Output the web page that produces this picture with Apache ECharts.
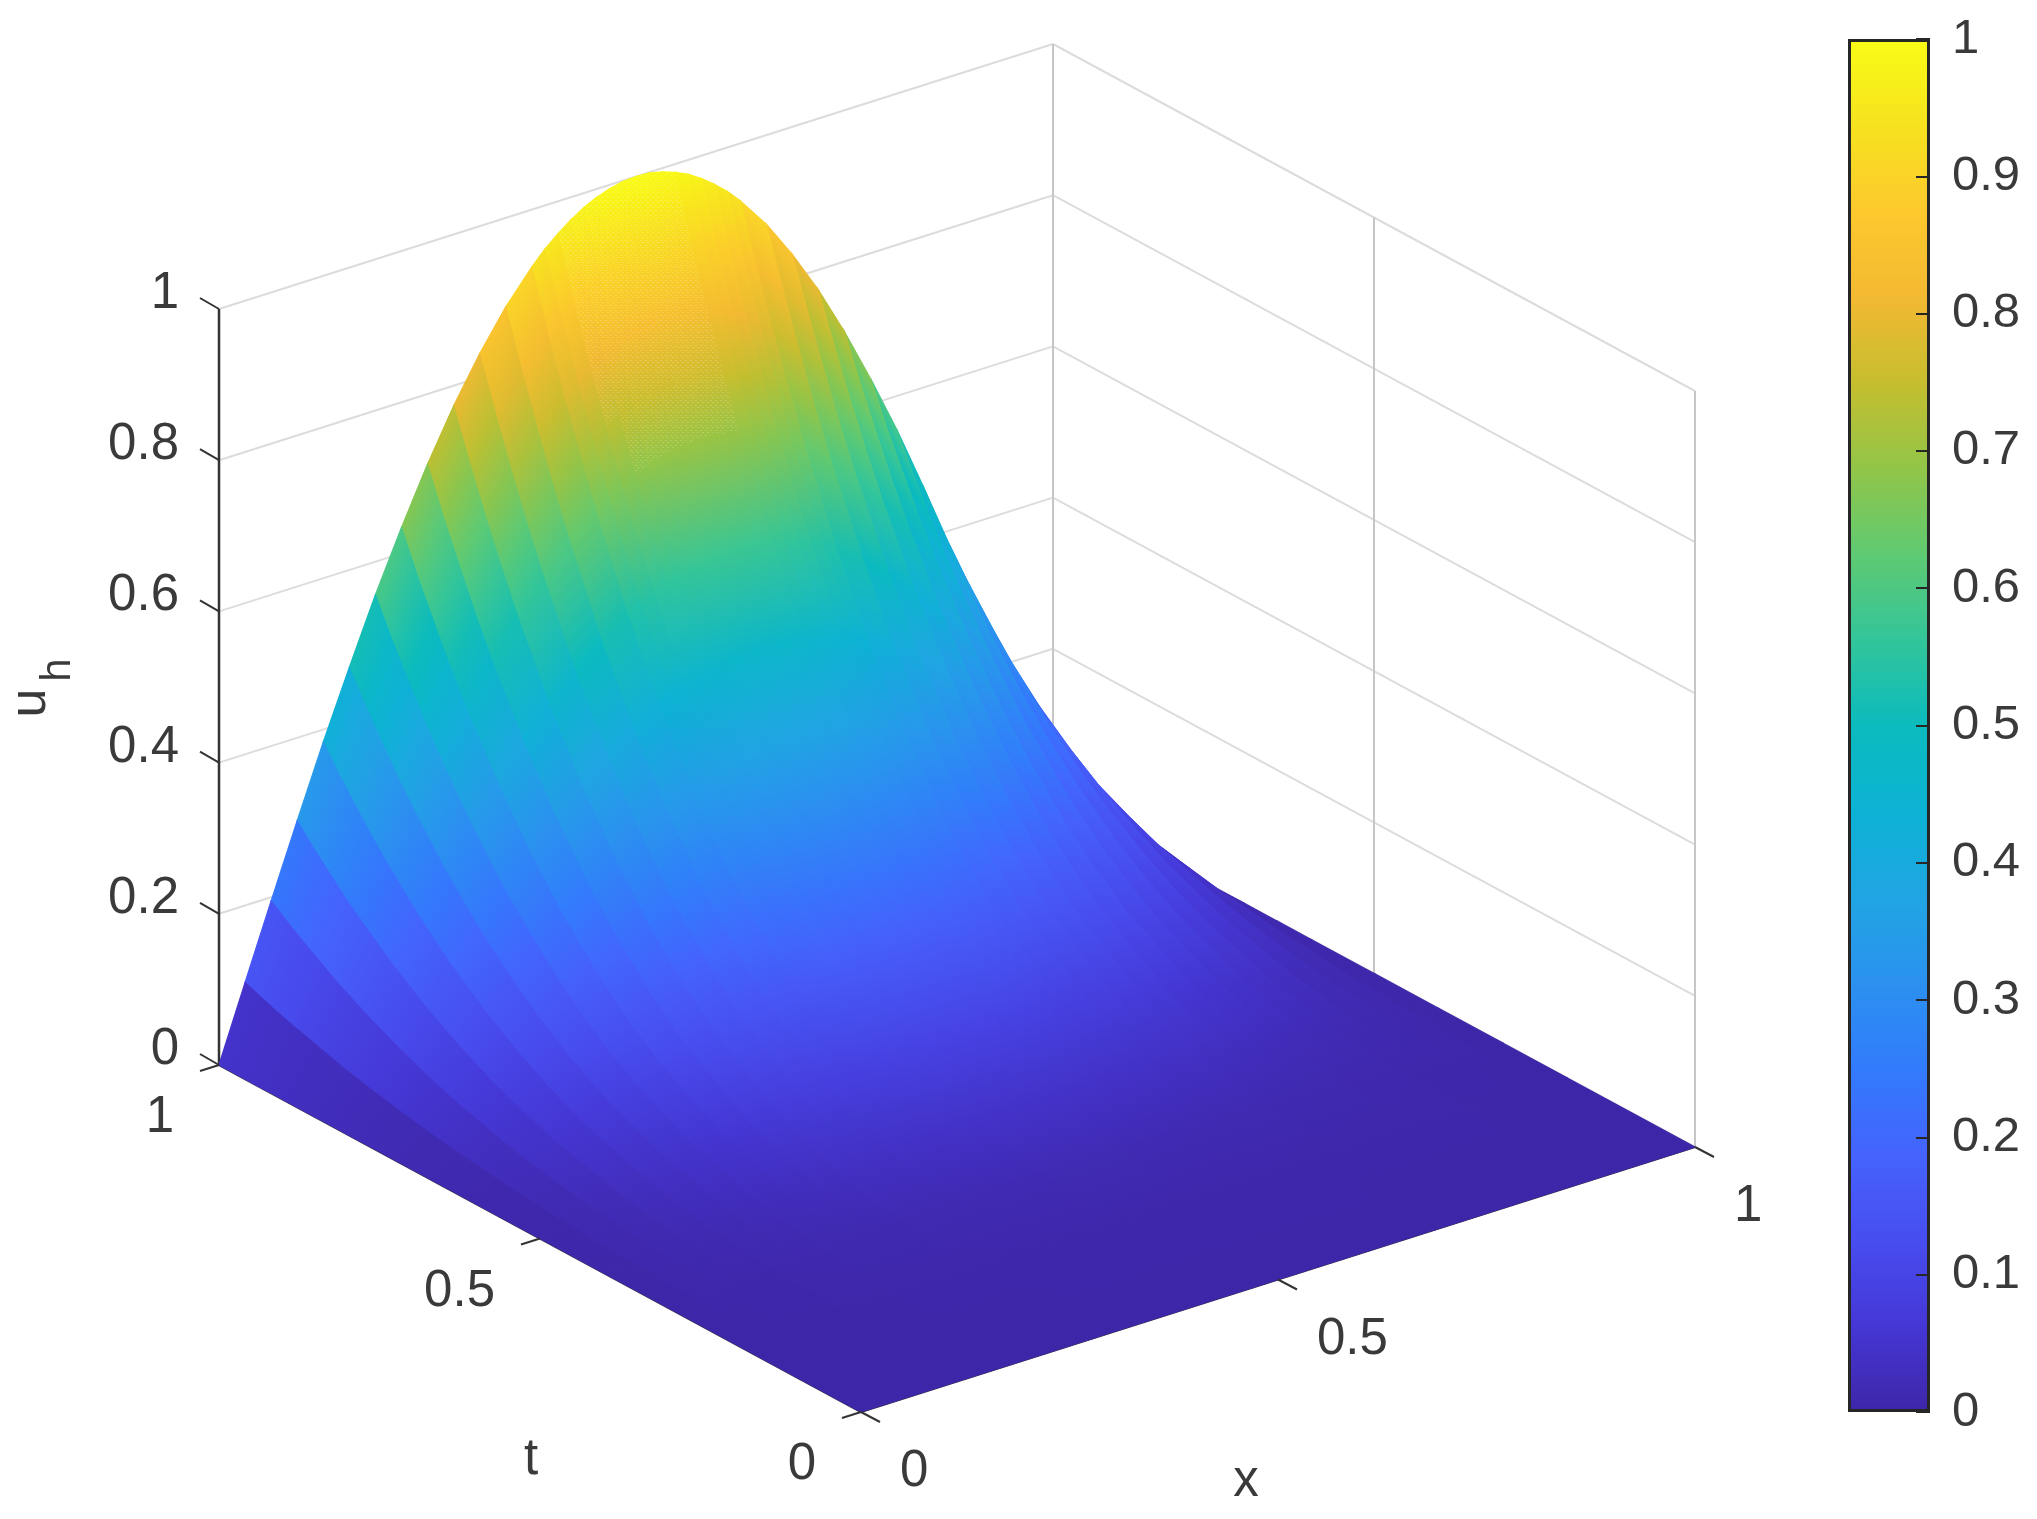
<!DOCTYPE html>
<html><head><meta charset="utf-8">
<style>html,body{margin:0;padding:0;background:#fff}#chart{width:2037px;height:1519px}</style>
<script src="https://cdn.jsdelivr.net/npm/echarts@6/dist/echarts.min.js"></script>
</head><body><div id="chart"></div>
<script>
// surface samples: one row of u per t, one column per x
const xValues = [0,.03125,.0625,.09375,.125,.15625,.1875,.21875,.25,.28125,.3125,.34375,.375,.390625,.40625,.421875,.4375,.453125,.46875,.484375,.5,.515625,.53125,.546875,.5625,.578125,.59375,.609375,.625,.65625,.6875,.71875,.75,.78125,.8125,.84375,.875,.90625,.9375,.96875,1];
const tValues = [0,.2,.3,.4,.5,.6,.65,.7,.75,.8,.85,.9,.925,.95,.975,1];
const uT000 = [0,0,0,0,0,0,0,0,0,0,0,0,0,0,0,0,0,0,0,0,0,0,0,0,0,0,0,0,0,0,0,0,0,0,0,0,0,0,0,0,0];
const uT200 = [0,0,.001,.001,.002,.002,.002,.003,.003,.003,.003,.004,.004,.004,.004,.004,.004,.004,.004,.004,.004,.004,.004,.004,.004,.004,.004,.004,.004,.004,.003,.003,.003,.003,.003,.003,.002,.002,.001,0,0];
const uT300 = [0,.002,.003,.005,.006,.008,.009,.011,.012,.013,.014,.015,.015,.016,.016,.016,.016,.017,.017,.017,.017,.017,.017,.017,.016,.016,.016,.016,.015,.015,.014,.013,.012,.011,.009,.008,.006,.005,.003,.002,0];
const uT400 = [0,.004,.009,.013,.017,.021,.025,.028,.031,.034,.037,.039,.041,.042,.042,.043,.044,.044,.044,.044,.044,.044,.044,.044,.044,.043,.042,.042,.041,.039,.037,.034,.031,.028,.025,.021,.017,.013,.009,.004,0];
const uT500 = [0,.009,.018,.027,.036,.045,.053,.060,.067,.073,.079,.084,.088,.089,.091,.092,.093,.094,.094,.095,.095,.095,.094,.094,.093,.092,.091,.089,.088,.084,.079,.073,.067,.060,.053,.045,.036,.027,.018,.009,0];
const uT600 = [0,.017,.034,.051,.067,.083,.098,.112,.124,.136,.146,.155,.163,.166,.168,.171,.173,.174,.175,.176,.176,.176,.175,.174,.173,.171,.168,.166,.163,.155,.146,.136,.124,.112,.098,.083,.067,.051,.034,.017,0];
const uT650 = [0,.023,.045,.067,.088,.109,.128,.146,.163,.179,.192,.204,.213,.218,.221,.224,.227,.228,.230,.231,.231,.231,.230,.228,.227,.224,.221,.218,.213,.204,.192,.179,.163,.146,.128,.109,.088,.067,.045,.023,0];
const uT700 = [0,.029,.058,.086,.114,.140,.165,.188,.210,.230,.247,.262,.274,.280,.284,.288,.291,.294,.296,.297,.297,.297,.296,.294,.291,.288,.284,.280,.274,.262,.247,.230,.210,.188,.165,.140,.114,.086,.058,.029,0];
const uT750 = [0,.037,.073,.109,.144,.177,.209,.238,.266,.291,.312,.332,.347,.354,.360,.365,.369,.372,.374,.376,.376,.376,.374,.372,.369,.365,.360,.354,.347,.332,.312,.291,.266,.238,.209,.177,.144,.109,.073,.037,0];
const uT800 = [0,.046,.091,.136,.179,.220,.260,.297,.331,.362,.389,.413,.432,.441,.448,.454,.459,.463,.466,.468,.468,.468,.466,.463,.459,.454,.448,.441,.432,.413,.389,.362,.331,.297,.260,.220,.179,.136,.091,.046,0];
const uT850 = [0,.056,.112,.167,.220,.271,.320,.365,.407,.444,.478,.507,.531,.542,.550,.558,.564,.569,.572,.574,.575,.574,.572,.569,.564,.558,.550,.542,.531,.507,.478,.444,.407,.365,.320,.271,.220,.167,.112,.056,0];
const uT900 = [0,.069,.136,.203,.268,.329,.389,.443,.494,.540,.581,.617,.646,.658,.669,.678,.686,.691,.696,.698,.699,.698,.696,.691,.686,.678,.669,.658,.646,.617,.581,.540,.494,.443,.389,.329,.268,.203,.136,.069,0];
const uT925 = [0,.075,.150,.222,.294,.361,.426,.486,.542,.593,.637,.676,.709,.723,.734,.744,.752,.759,.763,.766,.767,.766,.763,.759,.752,.744,.734,.723,.709,.676,.637,.593,.542,.486,.426,.361,.294,.222,.150,.075,0];
const uT950 = [0,.082,.164,.244,.322,.396,.467,.533,.594,.649,.698,.741,.776,.791,.804,.815,.824,.831,.836,.839,.840,.839,.836,.831,.824,.815,.804,.791,.776,.741,.698,.649,.594,.533,.467,.396,.322,.244,.164,.082,0];
const uT975 = [0,.090,.179,.266,.351,.432,.510,.581,.648,.709,.762,.809,.847,.864,.878,.889,.900,.907,.912,.916,.917,.916,.912,.907,.900,.889,.878,.864,.847,.809,.762,.709,.648,.581,.510,.432,.351,.266,.179,.090,0];
const uT100 = [0,.098,.195,.290,.383,.471,.556,.634,.707,.773,.831,.882,.924,.942,.957,.970,.981,.989,.995,.999,1,.999,.995,.989,.981,.970,.957,.942,.924,.882,.831,.773,.707,.634,.556,.471,.383,.290,.195,.098,0];
const uGrid = [uT000,uT200,uT300,uT400,uT500,uT600,uT650,uT700,uT750,uT800,uT850,uT900,uT925,uT950,uT975,uT100];
const uTicks = [0,0.2,0.4,0.6,0.8,1];
const xTicks = [0,0.5,1];
const tTicks = [0,0.5,1];
const barTicks = 0.1;

const parula = ['#3e26a8','#4537d5','#484df0','#4563fd','#327bfc','#2b91ef','#20a5e3','#0cb2d4','#0bbbbd','#33c59a','#5fca72','#92c548','#c6be2e','#f3b932','#fdc92d','#f6e31f','#f9fb15'];
const FONT = '"Liberation Sans",Arial,sans-serif', TXT = '#3a3a3a';

// fixed MATLAB-style view of the unit cube, in page pixels
const O = [861,1412], XV = [834,-265], TV = [-642,-347], UV = [0,-756];
const project = (x,t,u) => [O[0]+x*XV[0]+t*TV[0]+u*UV[0], O[1]+x*XV[1]+t*TV[1]+u*UV[1]];
const colorOf = u => echarts.color.lerp(Math.max(0,Math.min(1,u)), parula);

// walls, then the three axis lines
const segs = [];
uTicks.forEach(u => { segs.push([0,1,u,1,1,u,'#dcdcdc',2]); segs.push([1,1,u,1,0,u,'#dcdcdc',2]); });
xTicks.forEach(x => segs.push([x,1,0,x,1,1,'#c6c6c6',2]));
tTicks.forEach(t => segs.push([1,t,0,1,t,1,'#c6c6c6',2]));
segs.push([0,1,0,0,1,1,'#333',2.5],[0,0,0,1,0,0,'#333',2],[0,0,0,0,1,0,'#333',2]);

// back to front
const cells = [];
for (let j = tValues.length-2; j >= 0; j--) for (let i = xValues.length-2; i >= 0; i--) cells.push([i,j]);

// the very fine mesh near the crest shows up as a light dotted texture
const tile = document.createElement('canvas');
tile.width = 5; tile.height = 5;
const tc = tile.getContext('2d');
tc.fillStyle = 'rgba(255,255,255,0.75)';
tc.fillRect(0,0,2,1); tc.fillRect(2,2,2,1);
const dotted = {image: tile, repeat: 'repeat'};
const inCrest = (cx,cy) => {
  if (cy > 445) return false;
  const f = (cy-253)/154;
  return cx >= 563+37*f && cx <= 697+36*f;
};

const tick = (api,x,t,u,dx,dy) => { const a = api.coord(project(x,t,u)); return {type:'line',shape:{x1:a[0],y1:a[1],x2:a[0]+dx,y2:a[1]+dy},style:{stroke:'#333',lineWidth:2}}; };
const label = (api,x,t,u,dx,dy,s,align) => { const a = api.coord(project(x,t,u)); return {type:'text',style:{x:a[0]+dx,y:a[1]+dy,text:s,fill:TXT,font:'51px '+FONT,align:align,verticalAlign:'middle'}}; };
const plain = (x,y,s,size,rot) => ({type:'text',x:x,y:y,rotation:rot||0,style:{x:0,y:0,text:s,fill:TXT,font:size+'px '+FONT,align:'center',verticalAlign:'middle'}});

const chart = echarts.init(document.getElementById('chart'), null, {renderer:'canvas'});
chart.setOption({
  animation: false,
  backgroundColor: '#fff',
  grid: [{left:0,top:0,width:2037,height:1519,show:false},{left:1848,top:39,width:82,height:1373,show:false}],
  xAxis: [{type:'value',gridIndex:0,min:0,max:2037,show:false},{type:'category',gridIndex:1,data:['u'],show:false}],
  yAxis: [
    {type:'value',gridIndex:0,min:0,max:1519,inverse:true,show:false},
    {type:'value',gridIndex:1,min:0,max:1,interval:barTicks,position:'right',z:5,
      axisLine:{show:false},splitLine:{show:false},
      axisTick:{show:true,inside:true,length:14,lineStyle:{color:'#262626',width:2}},
      axisLabel:{color:TXT,fontSize:49,fontFamily:'Liberation Sans',margin:22,verticalAlignMinLabel:'middle',verticalAlignMaxLabel:'middle',padding:[8,0,0,0]}}
  ],
  series: [
    {type:'custom',xAxisIndex:0,yAxisIndex:0,silent:true,clip:false,z:1,data:segs.map((_,i)=>[i]),
      renderItem: (p,api) => {
        const s = segs[api.value(0)], a = api.coord(project(s[0],s[1],s[2])), b = api.coord(project(s[3],s[4],s[5]));
        return {type:'line',shape:{x1:a[0],y1:a[1],x2:b[0],y2:b[1]},style:{stroke:s[6],lineWidth:s[7]}};
      }},
    {type:'custom',xAxisIndex:0,yAxisIndex:0,silent:true,clip:false,z:2,data:cells,
      renderItem: (p,api) => {
        const i = api.value(0), j = api.value(1), x0 = xValues[i], x1 = xValues[i+1], t0 = tValues[j], t1 = tValues[j+1];
        const g = uGrid[j], h = uGrid[j+1];
        const pts = [[x0,t0,g[i]],[x1,t0,g[i+1]],[x1,t1,h[i+1]],[x0,t1,h[i]]].map(q => api.coord(project(q[0],q[1],q[2])));
        const ua = (g[i]+g[i+1])/2, ub = (h[i]+h[i+1])/2, xm = (x0+x1)/2;
        const A = api.coord(project(xm,t0,ua)), B = api.coord(project(xm,t1,ub));
        // colour runs across the row edge so neighbouring rows join without a seam
        const ex = pts[1][0]-pts[0][0], ey = pts[1][1]-pts[0][1], len = Math.hypot(ex,ey);
        const nx = -ey/len, ny = ex/len, d = (B[0]-A[0])*nx+(B[1]-A[1])*ny;
        const fill = {type:'linear',global:true,x:A[0],y:A[1],x2:A[0]+nx*d,y2:A[1]+ny*d,
          colorStops:[{offset:0,color:colorOf(ua)},{offset:1,color:colorOf(ub)}]};
        const kids = [{type:'polygon',shape:{points:pts},style:{fill:fill,stroke:fill,lineWidth:1.3}}];
        if (inCrest((A[0]+B[0])/2,(A[1]+B[1])/2))
          kids.push({type:'polygon',shape:{points:pts},style:{fill:dotted,opacity:0.26}});
        return {type:'group',children:kids};
      }},
    {type:'custom',xAxisIndex:0,yAxisIndex:0,silent:true,clip:false,z:3,data:[[0]],
      renderItem: (p,api) => {
        const c = [];
        uTicks.forEach(u => { c.push(tick(api,0,1,u,-19,-11)); c.push(label(api,0,1,u,-40,-15,String(u),'right')); });
        xTicks.forEach(x => { c.push(tick(api,x,0,0,19,10)); c.push(label(api,x,0,0,39,60,String(x),'left')); });
        tTicks.forEach(t => { c.push(tick(api,0,t,0,-19,6)); c.push(label(api,0,t,0,-45,53,String(t),'right')); });
        c.push(plain(531,1460,'t',51));
        c.push(plain(1246,1482,'x',51));
        c.push(plain(31,703,'u',52,Math.PI/2));
        c.push(plain(58,670,'h',42,Math.PI/2));
        return {type:'group',children:c};
      }},
    {type:'bar',xAxisIndex:1,yAxisIndex:1,data:[1],barWidth:'100%',silent:true,z:2,
      itemStyle:{borderColor:'#262626',borderWidth:3,
        color:new echarts.graphic.LinearGradient(0,1,0,0,parula.map((c,i)=>({offset:i/(parula.length-1),color:c})))}}
  ]
});
</script></body></html>
